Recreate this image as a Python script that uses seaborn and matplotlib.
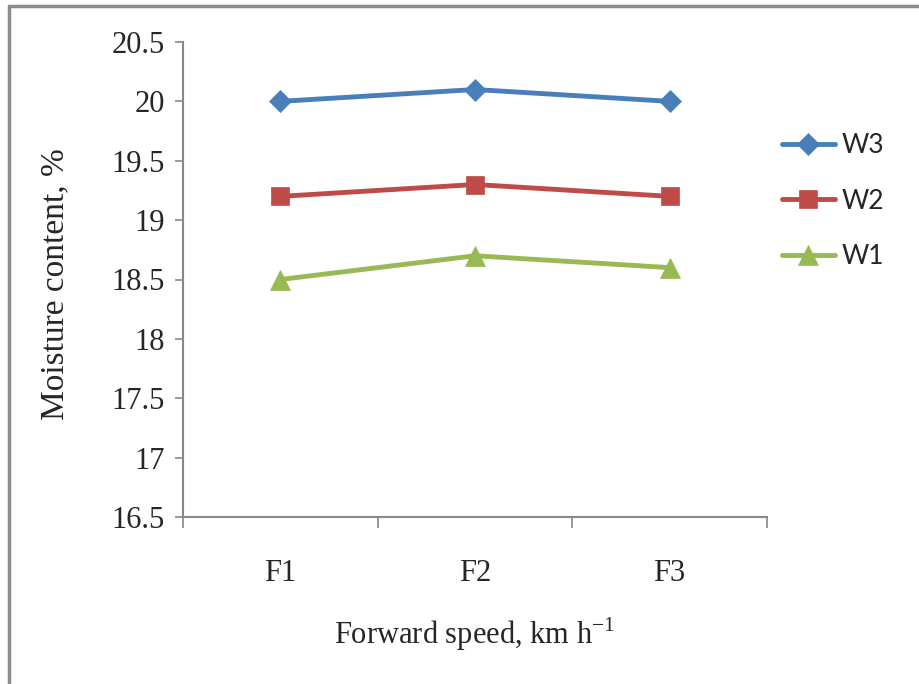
import matplotlib
matplotlib.use("Agg")
import matplotlib.pyplot as plt
import seaborn as sns
import pandas as pd
from matplotlib.lines import Line2D
from matplotlib.ticker import FixedLocator, NullFormatter

categories = ["F1", "F2", "F3"]
w3 = [20.0, 20.1, 20.0]
w2 = [19.2, 19.3, 19.2]
w1 = [18.5, 18.7, 18.6]
series_names = ["W3", "W2", "W1"]
y_ticks = [16.5, 17, 17.5, 18, 18.5, 19, 19.5, 20, 20.5]
y_tick_labels = ["16.5", "17", "17.5", "18", "18.5", "19", "19.5", "20", "20.5"]

sns.set_style("white")
plt.rcParams['font.family'] = ['Liberation Serif', 'DejaVu Serif']

rows = []
for name, vals in zip(series_names, [w3, w2, w1]):
    for i, (c, v) in enumerate(zip(categories, vals)):
        rows.append({"pos": i, "speed": c, "value": v, "series": name})
df = pd.DataFrame(rows)

fig = plt.figure(figsize=(9.2, 6.84), dpi=100)
ax = fig.add_axes([183/920, 1-517/684, (767-183)/920, (517-42)/684])

palette = {"W3": "#4A7EBB", "W2": "#BE4B48", "W1": "#98B954"}
markers = {"W3": "D", "W2": "s", "W1": "^"}
sizes_map = {"W3": 11, "W2": 13, "W1": 14}

for name in series_names:
    sub = df[df.series == name]
    sns.lineplot(data=sub, x="pos", y="value", ax=ax, color=palette[name],
                 marker=markers[name], markersize=sizes_map[name],
                 markeredgecolor=palette[name], markeredgewidth=0.5,
                 linewidth=3.5, label=name, solid_capstyle="round")

ax.set_xlim(-0.5, 2.5)
ax.set_ylim(16.5, 20.5)
ax.xaxis.set_major_locator(FixedLocator([-0.5, 0.5, 1.5, 2.5]))
ax.xaxis.set_major_formatter(NullFormatter())
ax.set_xticks([0, 1, 2], minor=True)
ax.set_xticklabels(categories, minor=True, fontsize=22)
ax.set_yticks(y_ticks)
ax.set_yticklabels(y_tick_labels, fontsize=22)
ax.tick_params(axis="x", which="major", direction="out", length=8, width=1.2,
               color="#888888", bottom=True)
ax.tick_params(axis="x", which="minor", length=0, pad=30)
ax.tick_params(axis="y", which="major", direction="out", length=6, width=1.2,
               color="#888888", left=True, pad=7)

for s in ["top", "right"]:
    ax.spines[s].set_visible(False)
for s in ["left", "bottom"]:
    ax.spines[s].set_color("#888888")
    ax.spines[s].set_linewidth(1.5)

ax.set_xlabel("Forward speed, km h$^{\\mathregular{-1}}$", fontsize=22, labelpad=20)
ax.set_ylabel("Moisture content, %", fontsize=24)
ax.yaxis.set_label_coords((70-183)/584, 0.49)

leg = ax.legend(loc="center left", bbox_to_anchor=(758/920, 1-201/684),
                bbox_transform=fig.transFigure, frameon=False,
                prop={"family": "Lato", "size": 19}, handlelength=2.0,
                labelspacing=1.15, handletextpad=0.25)

# outer gray frame
fig.add_artist(Line2D([9/920, 9/920], [0, 1-6/684], transform=fig.transFigure,
                      color="#8c8c8c", linewidth=2.5))
fig.add_artist(Line2D([9/920, 1], [1-6/684, 1-6/684], transform=fig.transFigure,
                      color="#8c8c8c", linewidth=2.5))

fig.savefig("out.png", dpi=100)
